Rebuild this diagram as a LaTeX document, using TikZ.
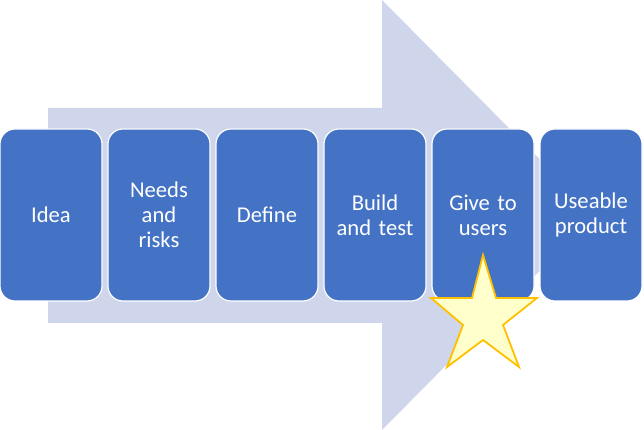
\documentclass[tikz,border=0pt]{standalone}
\usepackage{fontspec}
\setmainfont{Carlito}
\usepackage{tikz}
\usetikzlibrary{positioning}

\definecolor{arrowlav}{HTML}{CFD5EA}
\definecolor{boxblue}{HTML}{4472C4}
\definecolor{starfill}{HTML}{FFFFCC}
\definecolor{stargold}{HTML}{FFC000}

\tikzset{
    stepbox/.style={draw=white, line width=1.2pt, fill=boxblue, rounded corners=15pt,
        minimum width=102pt, minimum height=172pt, inner sep=0pt, outer sep=0pt, text width=94pt,
        align=center, text=white, font=\fontsize{22.6}{25}\selectfont},
    bigarrow/.style={fill=arrowlav},
    starshape/.style={draw=stargold, fill=starfill, line width=1.8pt}
}

\begin{document}
\begin{tikzpicture}[x=1pt,y=1pt]
                \useasboundingbox (0,0) rectangle (644,430);
                % background arrow
                \fill[bigarrow] (48,107) -- (48,322) -- (382,322) -- (382,430) -- (595,215) -- (382,0) -- (382,107) -- cycle;
                \node[stepbox] (idea) at (51,215) {Idea};
                \node[stepbox, right=6pt of idea] (needs) {Needs\\and\\risks};
                \node[stepbox, right=6pt of needs] (define) {Define};
                \node[stepbox, right=6pt of define] (build) {Build\\and test};
                \node[stepbox, right=6pt of build] (give) {Give to\\users};
                \node[stepbox, right=6pt of give] (product) {Useable\\product};
                % star
                \draw[starshape] (483,175) -- (496,132) -- (537,132) -- (503,105) -- (519,63) -- (483,90)
                    -- (447,63) -- (463,105) -- (431,132) -- (472,132) -- cycle;
            \end{tikzpicture}
\end{document}
